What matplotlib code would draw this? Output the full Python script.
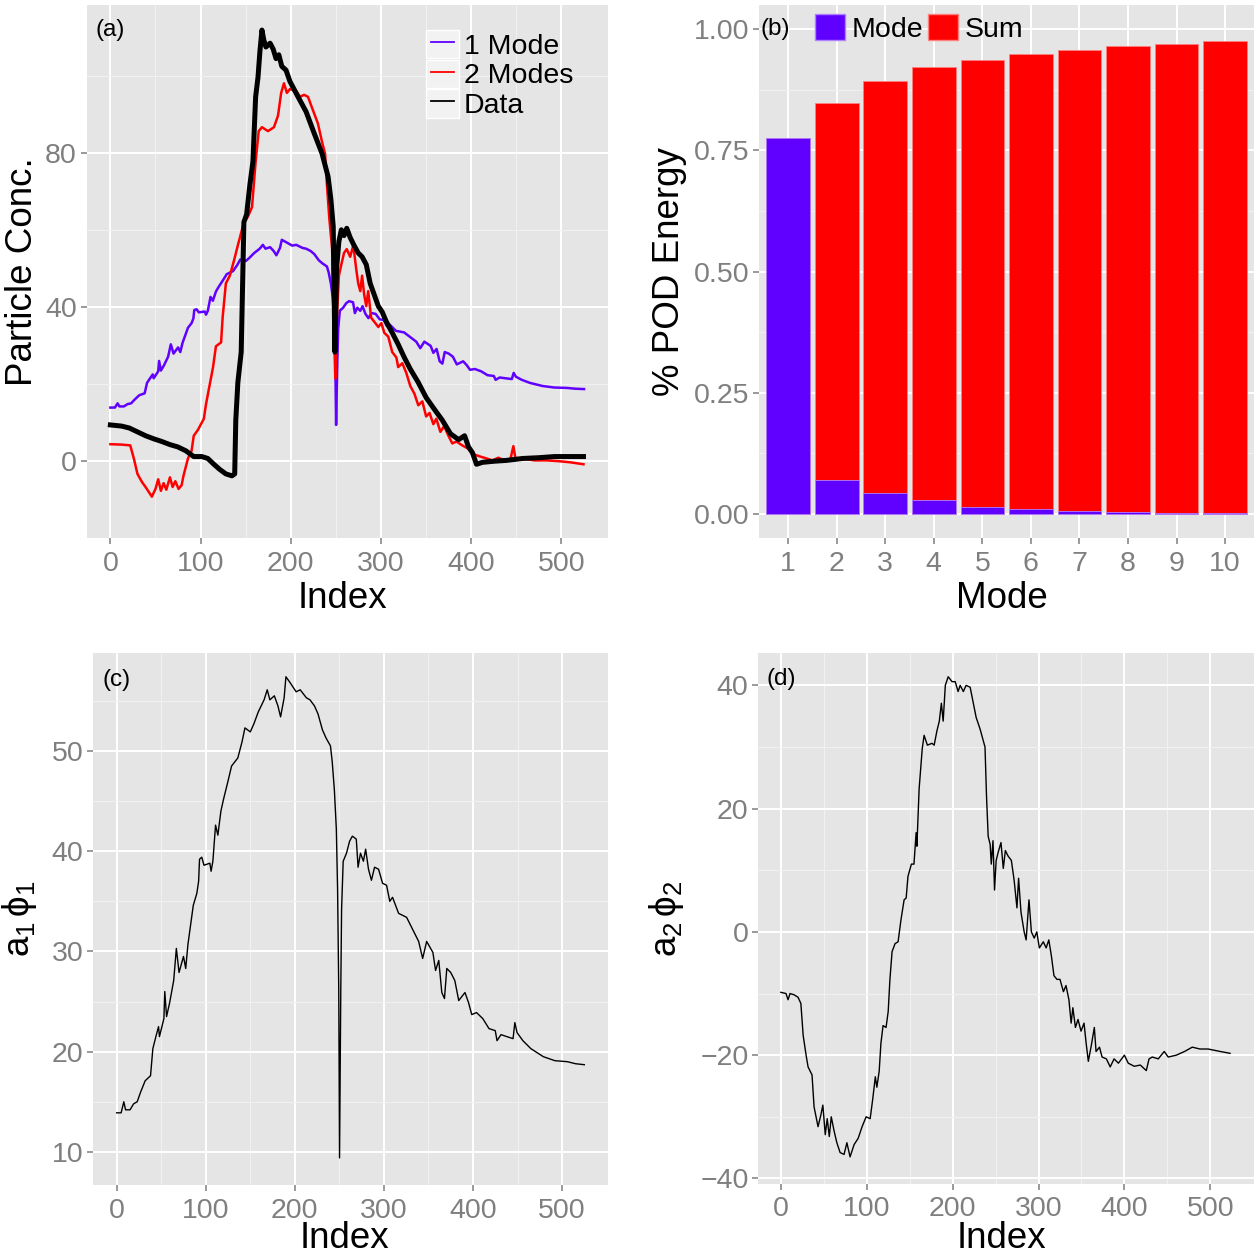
import matplotlib
matplotlib.use('Agg')
import matplotlib.pyplot as plt
from matplotlib.legend_handler import HandlerLine2D
from matplotlib.patches import Rectangle, Patch
from matplotlib.lines import Line2D

plt.rcParams['font.family'] = ['Liberation Sans', 'DejaVu Sans']
plt.rcParams['mathtext.fontset'] = 'custom'
plt.rcParams['mathtext.rm'] = 'Liberation Sans'
plt.rcParams['mathtext.it'] = 'Liberation Sans'

# ---- data ----
# first POD mode contribution a1*phi1 (also the "1 Mode" curve in panel a)
a1phi1_idx = [0, 5, 8, 10, 15, 19, 23, 27, 32, 38, 40.6, 44, 47, 48, 53, 54, 56, 59.5, 64, 67,
              70, 75, 77.5, 80, 86, 90, 92, 93, 95.5, 98, 104.6, 106, 108, 111, 113.6, 117, 120,
              125, 129, 136, 140.7, 144, 150, 154, 159, 165.5, 169, 172, 177, 181, 184, 188, 190,
              194, 197, 201.5, 206, 213, 217, 222, 226, 231, 235, 240, 242, 244.4, 246.6, 248,
              249.3, 250.2, 251.6, 252.5, 254.3, 258, 261.5, 264.6, 269, 271, 273.7, 277, 279.5,
              282.7, 286, 289.5, 294, 298.5, 303, 306.6, 309.7, 316.5, 325.5, 330, 339, 343.5,
              348, 355, 358, 361.6, 365, 368, 370.6, 375, 379.6, 384, 391, 395, 398.6, 404, 411,
              418, 425, 427, 431.5, 438, 445, 447, 449.5, 456, 465, 479, 492, 506, 515, 525]
a1phi1_val = [13.9, 13.9, 15.0, 14.2, 14.2, 14.8, 15.0, 16.0, 17.1, 17.6, 20.3, 21.5, 22.5, 21.5,
              23.3, 26.0, 23.5, 24.9, 27.1, 30.3, 27.9, 29.5, 28.3, 30.7, 34.6, 35.8, 37.0, 39.2,
              39.4, 38.6, 38.8, 38.0, 39.0, 42.6, 41.6, 44.0, 45.2, 47.0, 48.5, 49.3, 50.9, 52.3,
              51.9, 52.7, 53.9, 55.1, 56.1, 55.1, 55.5, 54.5, 53.4, 55.3, 57.4, 56.9, 56.5, 55.9,
              56.1, 55.3, 55.1, 54.5, 53.7, 52.1, 51.3, 50.5, 48.9, 46.1, 42.2, 36.2, 26.3, 9.4,
              26.3, 34.2, 39.0, 39.8, 41.0, 41.5, 41.2, 38.4, 39.8, 39.0, 40.2, 38.2, 37.1, 38.4,
              38.2, 36.8, 36.6, 35.0, 35.4, 33.8, 33.4, 32.6, 31.0, 29.3, 31.0, 29.9, 28.1, 29.1,
              25.9, 25.3, 28.3, 27.9, 27.1, 25.1, 25.9, 24.9, 23.7, 23.9, 23.3, 22.3, 22.1, 21.1,
              21.7, 21.5, 21.3, 22.9, 21.9, 21.1, 20.3, 19.5, 19.1, 19.0, 18.8, 18.7]

# second POD mode contribution a2*phi2
a2phi2_idx = [0, 6, 8.4, 10.7, 15.4, 20, 23.3, 26, 29.4, 31.7, 36.3, 38.7, 43.3, 46.6, 48.9, 51.7,
              54, 56.4, 58.7, 62, 65.2, 69, 73.6, 76.9, 80.6, 85.3, 90, 94.6, 99.3, 104, 107, 110,
              111.8, 114.5, 116.5, 119, 122.5, 125, 127, 129.5, 133, 136.5, 139.8, 143.5, 145.9,
              148, 152, 155, 157.5, 158.4, 161, 164.6, 166.8, 170.6, 176, 178.5, 181.7, 184.5,
              186.9, 189, 191.5, 194.8, 199.4, 203, 206.4, 208.8, 212.5, 215.7, 220.4, 223.7,
              227.4, 232, 235.8, 237.7, 239.5, 241.4, 243.7, 245, 247, 248.8, 250.7, 253, 256.3,
              259, 261.4, 264.6, 268.4, 271.6, 274.9, 276.8, 279.6, 283.3, 285.6, 288.9, 291.7,
              295, 298, 301, 305.6, 308.9, 312, 315, 318, 321.5, 325, 329, 332, 335.4, 338, 340,
              343, 346, 349.5, 353, 355.5, 358, 361.5, 365, 367, 371, 374, 379, 383.5, 388, 393,
              400, 404.5, 411.5, 418.5, 425.5, 428.7, 432.5, 439.4, 446.4, 451, 460.4, 470, 479,
              488, 497.5, 511.6, 523]
a2phi2_val = [-9.8, -10.0, -11.0, -10.0, -10.2, -10.6, -11.6, -16.8, -20.0, -21.9, -23.2, -28.4,
              -31.6, -29.7, -28.1, -32.9, -30.3, -33.2, -30.0, -32.3, -34.2, -35.8, -36.1, -34.2,
              -36.5, -34.5, -33.5, -31.6, -30.0, -30.3, -27.1, -23.5, -25.2, -22.6, -18.1, -15.2,
              -15.5, -12.9, -7.7, -3.2, -1.9, -1.6, 1.9, 5.2, 5.5, 9.0, 11.0, 11.0, 16.1, 13.9,
              23.2, 29.7, 31.9, 30.3, 30.6, 30.3, 32.6, 34.2, 37.1, 34.2, 40.0, 41.4, 40.6, 40.6,
              39.0, 40.0, 39.0, 40.0, 39.7, 37.4, 34.8, 32.9, 31.0, 30.0, 21.9, 15.5, 14.2, 11.0,
              14.8, 6.8, 11.6, 12.9, 14.5, 10.3, 13.2, 12.3, 11.6, 8.4, 3.9, 8.7, 3.2, 0.0, -1.3,
              5.2, 0.0, -1.0, 0.0, -2.6, -1.6, -2.6, -1.3, -3.9, -7.1, -7.7, -7.7, -9.7, -8.7,
              -11.0, -14.8, -12.3, -15.5, -14.2, -16.1, -14.8, -18.1, -21.0, -18.4, -15.5, -19.4,
              -18.7, -20.3, -20.6, -21.9, -20.6, -21.3, -20.0, -21.3, -21.8, -21.6, -22.5, -20.6,
              -20.3, -20.6, -19.4, -20.3, -20.0, -19.4, -18.7, -19.0, -19.0, -19.4, -19.7]

# two-mode reconstruction
two_modes_idx = [0, 12.4, 22, 26, 30, 35, 39, 46, 50, 53, 56, 59, 62, 66, 69, 72, 75.6, 79, 81, 86,
                 90, 92.4, 97, 100.4, 103.6, 105.8, 109, 113.8, 117, 122.7, 124.4, 128, 132.4, 137,
                 141.3, 143.6, 148, 152.4, 157, 161, 164.4, 168, 174.7, 181.3, 185.8, 189.3, 192.4,
                 195.6, 199, 205.8, 210.2, 214.7, 219, 223.6, 230, 234.7, 238, 240, 242.7, 245.8,
                 248, 249.3, 250.7, 253.3, 256, 259, 262, 265.8, 269.3, 272.4, 274.7, 277, 279,
                 281.3, 283.6, 285.8, 289, 292.4, 297, 300.4, 303.6, 308, 312.4, 317, 319, 323.6,
                 328, 332.4, 337, 341.3, 345.8, 350, 353.8, 358, 361.3, 365.8, 370, 374.7, 379,
                 383.6, 390, 397, 403.6, 410, 417, 423.6, 430, 437, 443.6, 446.7, 449, 457, 470,
                 483.6, 497, 510, 524.4]
two_modes_val = [4.4, 4.3, 4.1, 0.7, -3.3, -5.4, -6.7, -9.2, -7.2, -4.7, -7.7, -5.7, -7.4, -4.2,
                 -6.7, -5.2, -7.2, -6.2, -3.8, 0.7, 2.7, 6.6, 8.1, 9.6, 11.0, 14.5, 18.5, 24.4, 29.8,
                 30.8, 37.2, 46.1, 48.1, 52.0, 56.0, 58.0, 62.0, 63.4, 65.9, 77.7, 85.6, 86.6, 85.6,
                 86.6, 89.6, 95.5, 98.0, 95.5, 96.5, 96.0, 94.5, 95.0, 94.5, 91.6, 87.6, 82.7, 79.7,
                 71.8, 62.9, 55.0, 33.3, 21.4, 35.3, 48.1, 51.0, 54.0, 55.0, 53.0, 56.0, 50.0, 46.1,
                 44.1, 48.1, 43.2, 40.2, 44.1, 37.2, 36.2, 34.8, 35.8, 33.3, 32.3, 28.3, 26.9, 24.4,
                 25.4, 22.9, 19.5, 17.5, 14.5, 15.5, 11.6, 12.5, 9.6, 11.0, 7.6, 9.1, 6.6, 4.6, 5.1,
                 4.1, 3.2, 1.7, 1.2, 0.7, 0.2, 0.9, 0.2, 0.7, 3.9, 0.7, 0.7, 0.2, 0.2, 0.0, -0.3,
                 -0.8]

# measured particle concentration
data_idx = [0, 12.4, 21, 30, 39, 48, 57, 66, 74.7, 83.6, 92.4, 101.3, 108, 114.7, 121, 128, 134.7,
            137.8, 139, 141.3, 145, 148, 151, 154.7, 158, 161, 163.6, 165.8, 168, 170, 172.4, 177,
            180.4, 183.6, 186.7, 190, 194.7, 199, 208, 217, 225.8, 234.7, 241.3, 244.4, 247,
            248.9, 250.7, 253.3, 256, 259, 262, 265.8, 270, 274.7, 279, 283.6, 288, 292.4, 297,
            301.3, 305.8, 312.4, 319, 325.8, 332.4, 341.3, 350, 359, 368, 377, 386, 392.6, 397,
            401.3, 405.8, 412.4, 426, 439, 457, 474.7, 492.4, 510, 524.4]
data_val = [9.4, 9.1, 8.6, 7.6, 6.6, 5.8, 5.1, 4.3, 3.7, 2.7, 1.2, 1.2, 0.7, -0.8, -2.1, -3.3, -3.8,
            -3.3, 10.6, 20.4, 28.3, 62.0, 64.0, 71.8, 77.7, 94.5, 99.5, 106.4, 111.8, 109.3, 107.4,
            108.4, 106.9, 104.4, 105.4, 102.4, 101.4, 98.5, 94.5, 90.6, 85.1, 79.7, 73.8, 67.9,
            60.9, 28.3, 50.0, 57.0, 60.0, 58.5, 60.4, 58.0, 56.0, 54.0, 53.0, 51.0, 46.1, 43.2,
            40.2, 38.7, 36.2, 33.3, 30.3, 26.9, 23.9, 20.4, 16.5, 13.5, 10.6, 7.1, 5.6, 6.6, 3.7,
            2.2, -0.8, -0.3, 0.0, 0.2, 0.7, 0.9, 1.2, 1.2, 1.2]

# POD energy per mode and cumulative sum
modes = [1, 2, 3, 4, 5, 6, 7, 8, 9, 10]
mode_energy = [0.776, 0.070, 0.044, 0.028, 0.014, 0.011, 0.0065, 0.005, 0.003, 0.003]
sum_energy = [0.776, 0.847, 0.893, 0.922, 0.937, 0.949, 0.958, 0.965, 0.969, 0.975]

PURPLE = '#6000FF'
RED = '#FF0000'
GREY = '#7F7F7F'
W, H = 1260, 1259
TICK_FS = 20.5
TITLE_FS = 26.5
TAG_FS = 17.5


def gg_axes(rect_px):
    # rect_px = (left, top, right, bottom) in pixels
    l, t, r, b = rect_px
    ax = plt.gcf().add_axes([l / W, 1 - b / H, (r - l) / W, (b - t) / H])
    ax.set_facecolor('#E5E5E5')
    for s in ax.spines.values():
        s.set_visible(False)
    ax.grid(True, which='major', color='white', linewidth=1.4)
    ax.grid(True, which='minor', color='#F2F2F2', linewidth=0.7)
    ax.set_axisbelow(True)
    ax.tick_params(which='major', length=4.5, width=1.1, color=GREY, labelcolor=GREY,
                   labelsize=TICK_FS, pad=2.5)
    ax.tick_params(axis='x', which='major', pad=4.5)
    ax.tick_params(which='minor', length=0)
    return ax


class KeyLine(HandlerLine2D):
    # legend key drawn on a light box, like ggplot keys
    def create_artists(self, legend, orig_handle, xdescent, ydescent, width, height, fontsize, trans):
        arts = super().create_artists(legend, orig_handle, xdescent, ydescent, width, height,
                                      fontsize, trans)
        bg = Rectangle((-xdescent - 3, -ydescent), width + 6, height, facecolor='#F2F2F2',
                       edgecolor='white', linewidth=1.0, transform=trans)
        return [bg] + arts


fig = plt.figure(figsize=(W / 100, H / 100), dpi=100)

# (a) reconstruction
ax = gg_axes((86.7, 5, 607.7, 538.3))
ax.plot(a1phi1_idx, a1phi1_val, color=PURPLE, lw=1.8, label='1 Mode')
ax.plot(two_modes_idx, two_modes_val, color=RED, lw=1.8, label='2 Modes')
ax.plot(data_idx, data_val, color='black', lw=3.6, label='Data')
ax.set_xlim(-26.25, 551.25)
ax.set_ylim(-15.7, 118.3)
ax.set_xticks([0, 100, 200, 300, 400, 500])
ax.set_xticks([50, 150, 250, 350, 450], minor=True)
ax.set_yticks([0, 40, 80])
ax.set_yticks([-20, 20, 60, 100], minor=True)
ax.text(0, max(data_val), '(a)', ha='center', va='center', fontsize=TAG_FS)
ax.set_xlabel('Index', fontsize=TITLE_FS)
ax.set_ylabel('Particle Conc.', fontsize=TITLE_FS)
ax.xaxis.set_label_coords(0.49, -0.08)
ax.yaxis.set_label_coords(-0.09, 0.5)
leg_handles = [Line2D([], [], color=PURPLE, lw=1.3), Line2D([], [], color=RED, lw=1.3),
               Line2D([], [], color='black', lw=1.3)]
ax.legend(leg_handles, ['1 Mode', '2 Modes', 'Data'], loc='upper left',
          bbox_to_anchor=(0.66, 0.953), frameon=False, fontsize=TICK_FS, handlelength=0.84,
          handleheight=1.14, labelspacing=0.0, handletextpad=0.32, borderpad=0, borderaxespad=0,
          handler_map={Line2D: KeyLine()})

# (b) POD energy
ax = gg_axes((759, 5, 1254.3, 538.3))
ax.bar(modes, sum_energy, width=0.9, color=RED, edgecolor='#FF8080', linewidth=0.6)
ax.bar(modes, mode_energy, width=0.9, color=PURPLE, edgecolor='#B080FF', linewidth=0.6)
ax.set_xlim(0.4, 10.6)
ax.set_ylim(-0.05, 1.05)
ax.set_xticks(modes)
ax.set_yticks([0, 0.25, 0.5, 0.75, 1.0])
ax.set_yticklabels(['0.00', '0.25', '0.50', '0.75', '1.00'])
ax.set_yticks([0.125, 0.375, 0.625, 0.875], minor=True)
ax.grid(False, axis='x', which='minor')
ax.text(0.74, 1.0, '(b)', ha='center', va='center', fontsize=TAG_FS)
ax.set_xlabel('Mode', fontsize=TITLE_FS)
ax.set_ylabel('% POD Energy', fontsize=TITLE_FS)
ax.xaxis.set_label_coords(0.49, -0.08)
ax.yaxis.set_label_coords(-0.145, 0.5)
ax.legend([Patch(facecolor=PURPLE, edgecolor='#B080FF'), Patch(facecolor=RED, edgecolor='#FF8080')],
          ['Mode', 'Sum'], ncol=2, loc='upper left', bbox_to_anchor=(0.113, 0.984),
          frameon=False, fontsize=TICK_FS, handlelength=1.05, handleheight=1.07,
          handletextpad=0.23, columnspacing=0.18, borderpad=0, borderaxespad=0)

# (c) first mode
ax = gg_axes((93.3, 652.7, 607.7, 1185))
ax.plot(a1phi1_idx, a1phi1_val, color='black', lw=1.0)
ax.set_xlim(-26.25, 551.25)
ax.set_ylim(6.7, 59.8)
ax.set_xticks([0, 100, 200, 300, 400, 500])
ax.set_xticks([50, 150, 250, 350, 450], minor=True)
ax.set_yticks([10, 20, 30, 40, 50])
ax.set_yticks([15, 25, 35, 45, 55], minor=True)
ax.text(0, 57.1, '(c)', ha='center', va='center', fontsize=TAG_FS)
ax.set_xlabel('Index', fontsize=TITLE_FS)
ax.set_ylabel(r'$a_1\,\phi_1$', fontsize=TITLE_FS)
ax.xaxis.set_label_coords(0.489, -0.068)
ax.yaxis.set_label_coords(-0.106, 0.5)

# (d) second mode
ax = gg_axes((758.3, 652.7, 1254.3, 1184))
ax.plot(a2phi2_idx, a2phi2_val, color='black', lw=1.0)
ax.set_xlim(-26.25, 551.25)
ax.set_ylim(-40.9, 45.3)
ax.set_xticks([0, 100, 200, 300, 400, 500])
ax.set_xticks([50, 150, 250, 350, 450], minor=True)
ax.set_yticks([-40, -20, 0, 20, 40])
ax.set_yticklabels(['\u221240', '\u221220', '0', '20', '40'])
ax.set_yticks([-30, -10, 10, 30], minor=True)
ax.text(0, 41, '(d)', ha='center', va='center', fontsize=TAG_FS)
ax.set_xlabel('Index', fontsize=TITLE_FS)
ax.set_ylabel(r'$a_2\,\phi_2$', fontsize=TITLE_FS)
ax.xaxis.set_label_coords(0.491, -0.07)
ax.yaxis.set_label_coords(-0.146, 0.5)

fig.savefig('out.png', dpi=100)
